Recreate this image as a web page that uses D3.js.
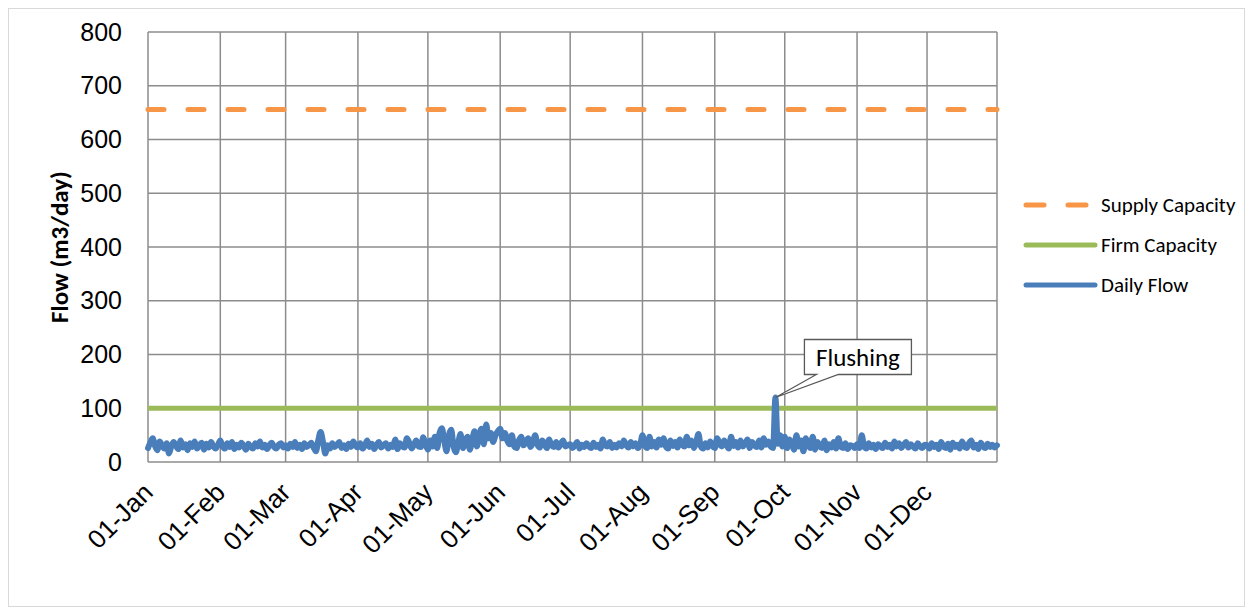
<!DOCTYPE html>
<html>
<head>
<meta charset="utf-8">
<script src="https://cdn.jsdelivr.net/npm/d3@7"></script>
<style>
  body { margin: 0; background: #fff; }
  svg { font-family: Carlito, Lato, "Open Sans", sans-serif; }
</style>
</head>
<body>
<svg id="chart" width="1252" height="614"></svg>
<script>
// Daily flow (m3/day), one array per month
const jan = [26,36,44,30,22,38,31,25,35,16,29,37,30,24,40,27,33,22,35,28,38,25,31,36,23,34,27,37,29,25,32];
const feb = [40,29,25,35,28,37,24,32,27,36,30,23,34,28,25,35,29,38,27,32,24,31,36,28,25,32,35,27];
const mar = [31,25,34,28,37,26,32,24,35,28,31,36,27,20,40,56,38,16,31,25,35,28,32,37,26,31,24,34,28,38,30];
const apr = [27,35,25,31,40,28,34,24,32,37,27,31,35,25,32,28,42,24,35,29,27,44,36,25,32,40,29,28,46,33];
const may = [23,40,29,47,26,54,63,40,20,50,60,29,18,36,52,26,40,47,23,42,57,29,50,62,33,70,44,54,37,50,57];
const jun = [62,44,54,40,33,50,29,26,40,47,31,37,44,28,36,50,32,27,40,34,26,42,31,28,37,27,34,40,29,31];
const jul = [33,26,31,37,25,32,28,35,29,26,36,28,32,25,42,31,29,37,26,32,27,35,29,40,31,27,37,29,35,26,32];
const aug = [50,31,26,47,29,37,27,42,32,44,29,25,40,30,37,27,42,32,29,47,31,40,26,37,52,29,25,35,27,38,30];
const sep = [26,44,35,29,40,32,25,47,30,37,27,40,29,34,42,26,37,31,28,40,27,44,32,38,29,26,120,34,50,29];
const oct = [47,26,42,35,23,50,29,40,20,44,33,26,47,23,37,29,26,40,22,33,27,37,25,44,29,26,35,24,31,30,26];
const nov = [33,26,50,29,25,35,27,32,24,33,29,26,36,28,32,25,38,29,35,26,32,37,27,33,29,25,35,29,26,32];
const dec = [31,25,35,28,32,24,37,29,26,34,23,36,28,32,25,38,29,26,35,40,27,32,24,36,29,26,34,28,32,27,31];

const supplyCapacity = 656;
const firmCapacity = 100;
const monthTicks = ['01-Jan','01-Feb','01-Mar','01-Apr','01-May','01-Jun','01-Jul','01-Aug','01-Sep','01-Oct','01-Nov','01-Dec'];
const yTicks = [0,100,200,300,400,500,600,700,800];
const legendItems = ['Supply Capacity','Firm Capacity','Daily Flow'];
const flushingDate = [8, 27]; // month index, day

const dailyFlow = [].concat(jan, feb, mar, apr, may, jun, jul, aug, sep, oct, nov, dec)
  .map((v, i) => ({ date: new Date(2019, 0, 1 + i), value: v }));

const svg = d3.select('#chart');
const margin = { left: 148, right: 255, top: 32, bottom: 152 };
const width = 1252 - margin.left - margin.right;
const height = 614 - margin.top - margin.bottom;

// chart border
svg.append('rect')
  .attr('x', 8.5).attr('y', 8.5).attr('width', 1236).attr('height', 598)
  .attr('fill', 'none').attr('stroke', '#d9d9d9');

const x = d3.scaleTime()
  .domain([new Date(2019, 0, 1), new Date(2019, 11, 31)])
  .range([0, width]);
const y = d3.scaleLinear().domain([0, 800]).range([height, 0]);

const g = svg.append('g').attr('transform', `translate(${margin.left},${margin.top})`);

// grid
g.append('g').selectAll('line').data(yTicks).join('line')
  .attr('x1', 0).attr('x2', width)
  .attr('y1', d => y(d)).attr('y2', d => y(d))
  .attr('stroke', '#8c8c8c').attr('stroke-width', 1.5);

const monthDates = monthTicks.map((_, i) => new Date(2019, i, 1));
g.append('g').selectAll('line').data(monthDates.concat([x.domain()[1]])).join('line')
  .attr('x1', d => x(d)).attr('x2', d => x(d))
  .attr('y1', 0).attr('y2', height)
  .attr('stroke', '#8c8c8c').attr('stroke-width', 1.5);

// y axis labels
const yAxis = g.append('g')
  .call(d3.axisLeft(y).tickValues(yTicks).tickSize(0).tickPadding(26));
yAxis.select('.domain').remove();
yAxis.selectAll('text').style('font-size', '25px').attr('fill', '#000');

// x axis labels
const xAxis = g.append('g').attr('transform', `translate(0,${height})`)
  .call(d3.axisBottom(x).tickValues(monthDates).tickSize(0).tickFormat((d, i) => monthTicks[i]));
xAxis.select('.domain').remove();
xAxis.selectAll('text')
  .style('font-size', '26px').attr('fill', '#000')
  .attr('text-anchor', 'end')
  .attr('dy', null).attr('y', 0)
  .attr('transform', 'translate(6,32) rotate(-45)');

// y axis title
svg.append('text')
  .attr('transform', `translate(68,${margin.top + height / 2}) rotate(-90)`)
  .attr('text-anchor', 'middle')
  .style('font-size', '25px').style('font-weight', 'bold')
  .text('Flow (m3/day)');

// capacity lines
g.append('line')
  .attr('x1', 0).attr('x2', width)
  .attr('y1', y(supplyCapacity)).attr('y2', y(supplyCapacity))
  .attr('stroke', '#f79646').attr('stroke-width', 5)
  .attr('stroke-linecap', 'round').attr('stroke-dasharray', '16 24');

g.append('line')
  .attr('x1', 0).attr('x2', width)
  .attr('y1', y(firmCapacity)).attr('y2', y(firmCapacity))
  .attr('stroke', '#9bbb59').attr('stroke-width', 5);

// daily flow
g.append('path')
  .datum(dailyFlow)
  .attr('fill', 'none')
  .attr('stroke', '#4a7ebb').attr('stroke-width', 6)
  .attr('stroke-linejoin', 'round').attr('stroke-linecap', 'round')
  .attr('d', d3.line().x(d => x(d.date)).y(d => y(d.value)).curve(d3.curveMonotoneX));

// flushing callout
const fd = dailyFlow.find(d => d.date.getMonth() === flushingDate[0] && d.date.getDate() === flushingDate[1]);
const px = x(fd.date), py = y(fd.value);
const bx = px + 29, by = py - 58, bw = 107, bh = 35;
g.append('path')
  .attr('d', `M${bx},${by} H${bx + bw} V${by + bh} H${bx + 34} L${px},${py} L${bx + 12},${by + bh} H${bx} Z`)
  .attr('fill', '#fff').attr('stroke', '#595959').attr('stroke-width', 1.3);
g.append('text')
  .attr('x', bx + bw / 2).attr('y', by + bh / 2 + 9)
  .attr('text-anchor', 'middle')
  .style('font-size', '25px')
  .text('Flushing');

// legend
const legendColors = ['#f79646', '#9bbb59', '#4a7ebb'];
const legend = svg.append('g').attr('transform', 'translate(1026,205)');
legendItems.forEach((name, i) => {
  const row = legend.append('g').attr('transform', `translate(0,${i * 40})`);
  row.append('line')
    .attr('x1', 0).attr('x2', 69)
    .attr('stroke', legendColors[i]).attr('stroke-width', 5)
    .attr('stroke-linecap', 'round')
    .attr('stroke-dasharray', i === 0 ? '18 24' : null);
  row.append('text')
    .attr('x', 75).attr('y', 7)
    .style('font-size', '21px')
    .text(name);
});
</script>
</body>
</html>
